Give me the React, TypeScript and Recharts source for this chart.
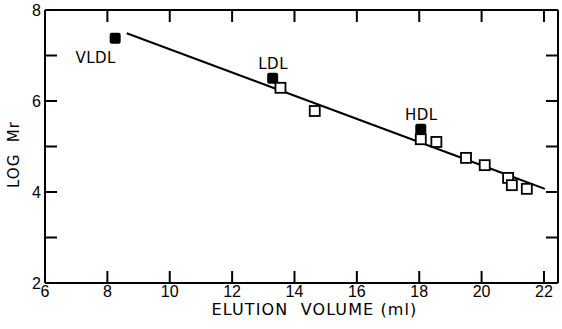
import React from 'react'
import {
  ComposedChart,
  Scatter,
  XAxis,
  YAxis,
  LabelList,
} from 'recharts'

// lipoprotein markers (filled) and calibration proteins (open)
const lipoNames = ['VLDL', 'LDL', 'HDL']
const lipoVolume = [8.25, 13.3, 18.05]
const lipoLogMr = [7.38, 6.5, 5.38]

const stdVolume = [13.55, 14.65, 18.05, 18.55, 19.5, 20.1, 20.85, 20.97, 21.45]
const stdLogMr = [6.29, 5.78, 5.16, 5.1, 4.75, 4.59, 4.31, 4.15, 4.07]

// regression line end points
const fitVolume = [8.62, 22.03]
const fitLogMr = [7.49, 4.07]

const xTicks = [6, 8, 10, 12, 14, 16, 18, 20, 22]
const yTicks = [2, 3, 4, 5, 6, 7, 8]

const lipoData = lipoNames.map((name, i) => ({ name, x: lipoVolume[i], y: lipoLogMr[i] }))
const stdData = stdVolume.map((x, i) => ({ x, y: stdLogMr[i] }))
const fitData = fitVolume.map((x, i) => ({ x, y: fitLogMr[i] }))

const FONT = '"Liberation Sans", Arial, sans-serif'
const LABEL_FONT = '"DejaVu Sans", sans-serif'
const axisStyle = { stroke: '#000', strokeWidth: 2 }
const tickStyle = { fontSize: 16, fontFamily: FONT, fill: '#000' }

const FilledSquare = (props: any) => {
  const { cx, cy } = props
  return <rect x={cx - 5.5} y={cy - 5.5} width={11} height={11} rx={2} fill='#000' />
}

const OpenSquare = (props: any) => {
  const { cx, cy } = props
  return (
    <rect x={cx - 5} y={cy - 5} width={10} height={10} fill='#fff' stroke='#000' strokeWidth={1.8} />
  )
}

const Empty = () => <g />

const LipoLabel = (props: any) => {
  const { x, y, value } = props
  // VLDL sits below-left, others above
  const below = value === 'VLDL'
  return (
    <text
      x={below ? x - 15 : x + 5}
      y={below ? y + 29 : y - 5}
      textAnchor='middle'
      fontSize={15}
      fontFamily={LABEL_FONT}
      letterSpacing={0.5}
      fill='#000'
    >
      {value}
    </text>
  )
}

const XTitle = (props: any) => {
  const { viewBox } = props
  return (
    <text
      x={viewBox.x + viewBox.width / 2 + 13}
      y={viewBox.y + 32}
      textAnchor='middle'
      fontSize={16}
      fontFamily={LABEL_FONT}
      letterSpacing={1.1}
      fill='#000'
      style={{ whiteSpace: 'pre' }}
    >
      {'ELUTION  VOLUME (ml)'}
    </text>
  )
}

const YTitle = (props: any) => {
  const { viewBox } = props
  const x = viewBox.x + 19
  const y = viewBox.y + viewBox.height / 2 + 8
  return (
    <text
      x={x}
      y={y}
      transform={`rotate(-90, ${x}, ${y})`}
      textAnchor='middle'
      fontSize={15}
      fontFamily={LABEL_FONT}
      letterSpacing={1}
      fill='#000'
      style={{ whiteSpace: 'pre' }}
    >
      {'LOG  Mr'}
    </text>
  )
}

export default function App() {
  return (
    <div style={{ position: 'absolute', left: 0, top: 0, background: '#fff' }}>
      <ComposedChart
        width={562}
        height={329}
        margin={{ top: 9, right: 3, bottom: 0, left: 0 }}
      >
        <XAxis
          xAxisId='b'
          type='number'
          dataKey='x'
          domain={[6, 22.45]}
          ticks={xTicks}
          allowDataOverflow
          height={46}
          tickSize={-12}
          tickMargin={15}
          tick={tickStyle}
          tickLine={axisStyle}
          axisLine={axisStyle}
          label={<XTitle />}
        />
        <XAxis
          xAxisId='t'
          orientation='top'
          type='number'
          dataKey='x'
          domain={[6, 22.45]}
          ticks={xTicks}
          allowDataOverflow
          height={1}
          tickSize={-12}
          tick={<Empty />}
          tickLine={axisStyle}
          axisLine={axisStyle}
        />
        <YAxis
          yAxisId='l'
          type='number'
          dataKey='y'
          domain={[2, 8]}
          ticks={yTicks}
          allowDataOverflow
          width={45}
          tickSize={-12}
          tickMargin={16}
          tick={tickStyle}
          tickFormatter={(v: number) => (v % 2 === 0 ? String(v) : '')}
          tickLine={axisStyle}
          axisLine={axisStyle}
          label={<YTitle />}
        />
        <YAxis
          yAxisId='r'
          orientation='right'
          type='number'
          dataKey='y'
          domain={[2, 8]}
          ticks={yTicks}
          allowDataOverflow
          width={1}
          tickSize={-12}
          tick={<Empty />}
          tickLine={axisStyle}
          axisLine={axisStyle}
        />
        <Scatter
          xAxisId='t'
          yAxisId='r'
          data={stdData}
          shape={<Empty />}
          isAnimationActive={false}
        />
        <Scatter
          xAxisId='b'
          yAxisId='l'
          data={fitData}
          line={{ stroke: '#000', strokeWidth: 2 }}
          shape={<Empty />}
          isAnimationActive={false}
        />
        <Scatter
          xAxisId='b'
          yAxisId='l'
          data={lipoData}
          shape={<FilledSquare />}
          isAnimationActive={false}
        >
          <LabelList dataKey='name' content={<LipoLabel />} />
        </Scatter>
        <Scatter
          xAxisId='b'
          yAxisId='l'
          data={stdData}
          shape={<OpenSquare />}
          isAnimationActive={false}
        />
      </ComposedChart>
    </div>
  )
}
